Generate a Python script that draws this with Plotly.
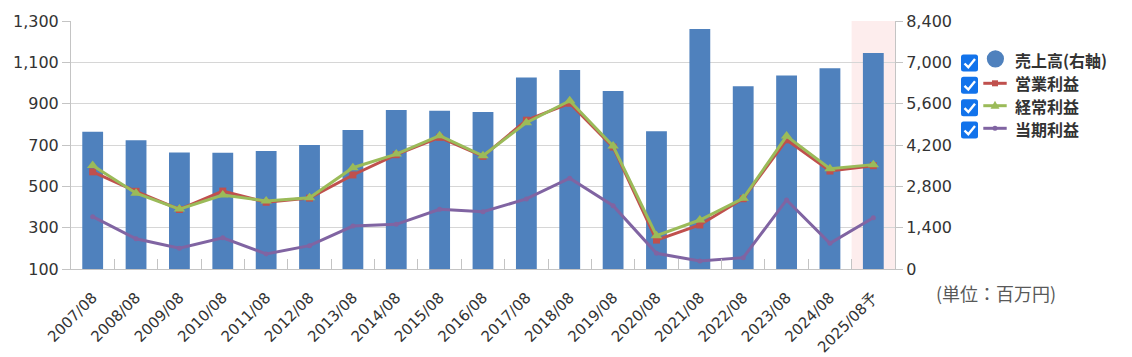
import plotly.graph_objects as go

categories = ["2007/08", "2008/08", "2009/08", "2010/08", "2011/08", "2012/08", "2013/08",
              "2014/08", "2015/08", "2016/08", "2017/08", "2018/08", "2019/08", "2020/08",
              "2021/08", "2022/08", "2023/08", "2024/08", "2025/08予"]
sales = [4650, 4360, 3950, 3940, 4000, 4200, 4710, 5385, 5360, 5320, 6490, 6740, 6030,
         4665, 8130, 6190, 6550, 6800, 7320]
operating = [570, 476, 388, 477, 423, 443, 555, 653, 737, 645, 820, 902, 690, 240, 313,
             440, 725, 574, 600]
ordinary = [601, 467, 390, 458, 429, 445, 590, 656, 745, 648, 808, 914, 695, 261, 337,
            442, 743, 585, 605]
net = [353, 246, 200, 251, 173, 213, 308, 316, 389, 377, 439, 539, 406, 176, 139, 155,
       434, 224, 348]

legend_names = ["売上高(右軸)", "営業利益", "経常利益", "当期利益"]
unit_text = "(単位：百万円)"

W, H = 1132, 357
ML, MR, MT, MB = 71, 237, 21, 88
PW, PH = W - ML - MR, H - MT - MB


def pxx(x):
    return (x - ML) / PW


def pxy(y):
    return (H - MB - y) / PH


BLUE = "#4F81BD"
RED = "#C0504D"
GREEN = "#9BBB59"
PURPLE = "#8064A2"
GRID = "#d6d6d6"
AXIS = "#c4c4c4"

fig = go.Figure()

fig.add_trace(go.Bar(x=categories, y=sales, name=legend_names[0],
                     marker=dict(color=BLUE, line=dict(width=0)), yaxis="y"))
fig.add_trace(go.Scatter(x=categories, y=operating, mode="lines+markers", name=legend_names[1],
                         line=dict(color=RED, width=3), marker=dict(symbol="square", size=7, color=RED),
                         yaxis="y2"))
fig.add_trace(go.Scatter(x=categories, y=ordinary, mode="lines+markers", name=legend_names[2],
                         line=dict(color=GREEN, width=3), marker=dict(symbol="triangle-up", size=10, color=GREEN),
                         yaxis="y2"))
fig.add_trace(go.Scatter(x=categories, y=net, mode="lines+markers", name=legend_names[3],
                         line=dict(color=PURPLE, width=3), marker=dict(symbol="circle", size=5, color=PURPLE),
                         yaxis="y2"))

ytickfont = dict(family="DejaVu Sans", size=16, color="#333333")
xtickfont = dict(family="DejaVu Sans", size=15, color="#333333")

shapes = [dict(type="rect", xref="x", yref="paper", x0=17.5, x1=18.5, y0=0, y1=1,
               fillcolor="#FDEDED", line=dict(width=0), layer="below")]
annotations = []


def ppath(points, close=False):
    s = "M " + " L ".join(f"{pxx(x)},{pxy(y)}" for x, y in points)
    return s + (" Z" if close else "")


# hand-drawn legend with checkboxes (as in the reference)
box_rows = [63, 85.3, 107.7, 130]
text_rows = [59.7, 82.9, 106.1, 129.3]
sym_rows = [60.8, 83.3, 105.7, 128.3]
for cy in box_rows:
    x0, x1, y0, y1, r = 961, 978, cy - 8.5, cy + 8.5, 2.5
    path = (f"M {pxx(x0 + r)},{pxy(y0)} L {pxx(x1 - r)},{pxy(y0)} "
            f"Q {pxx(x1)},{pxy(y0)} {pxx(x1)},{pxy(y0 + r)} L {pxx(x1)},{pxy(y1 - r)} "
            f"Q {pxx(x1)},{pxy(y1)} {pxx(x1 - r)},{pxy(y1)} L {pxx(x0 + r)},{pxy(y1)} "
            f"Q {pxx(x0)},{pxy(y1)} {pxx(x0)},{pxy(y1 - r)} L {pxx(x0)},{pxy(y0 + r)} "
            f"Q {pxx(x0)},{pxy(y0)} {pxx(x0 + r)},{pxy(y0)} Z")
    shapes.append(dict(type="path", xref="paper", yref="paper", path=path,
                       fillcolor="#1273EB", line=dict(width=0)))
    shapes.append(dict(type="path", xref="paper", yref="paper",
                       path=ppath([(964.5, cy + 0.5), (968.3, cy + 4.2), (975, cy - 4)]),
                       line=dict(color="white", width=2.4)))

# blue circle symbol
shapes.append(dict(type="circle", xref="paper", yref="paper",
                   x0=pxx(986.8), x1=pxx(1004), y0=pxy(67.4), y1=pxy(50.2),
                   fillcolor=BLUE, line=dict(width=0)))
# line symbols
for cy, col in zip(sym_rows[1:], [RED, GREEN, PURPLE]):
    shapes.append(dict(type="line", xref="paper", yref="paper",
                       x0=pxx(983.3), x1=pxx(1006.7), y0=pxy(cy), y1=pxy(cy),
                       line=dict(color=col, width=3)))
cy = sym_rows[1]
shapes.append(dict(type="rect", xref="paper", yref="paper",
                   x0=pxx(992), x1=pxx(998), y0=pxy(cy + 3), y1=pxy(cy - 3),
                   fillcolor=RED, line=dict(width=0)))
cy = sym_rows[2]
shapes.append(dict(type="path", xref="paper", yref="paper",
                   path=ppath([(995, cy - 5), (999.5, cy + 3), (990.5, cy + 3)], close=True),
                   fillcolor=GREEN, line=dict(width=0)))
cy = sym_rows[3]
shapes.append(dict(type="circle", xref="paper", yref="paper",
                   x0=pxx(992.5), x1=pxx(997.5), y0=pxy(cy + 2.5), y1=pxy(cy - 2.5),
                   fillcolor=PURPLE, line=dict(width=0)))

for name, cy in zip(legend_names, text_rows):
    annotations.append(dict(text="<b>" + name + "</b>", xref="paper", yref="paper",
                            x=pxx(1014), y=pxy(cy), xanchor="left", yanchor="middle",
                            showarrow=False, borderpad=0,
                            font=dict(family="Noto Sans CJK JP", size=16, color="#333333")))

annotations.append(dict(text=unit_text, xref="paper", yref="paper", x=pxx(996), y=pxy(292.5),
                        xanchor="center", yanchor="middle", showarrow=False,
                        font=dict(family="Noto Sans CJK JP", size=18, color="#595959")))

fig.update_layout(
    width=W, height=H, autosize=False,
    margin=dict(l=ML, r=MR, t=MT, b=MB, pad=0, autoexpand=False),
    paper_bgcolor="white", plot_bgcolor="white",
    bargap=0.52,
    showlegend=False,
    xaxis=dict(type="category", tickangle=-45, tickfont=xtickfont, showgrid=False,
               showline=True, linecolor=AXIS, linewidth=1, automargin=False,
               ticks="inside", tickson="boundaries", ticklen=10, tickcolor=AXIS, tickwidth=1,
               ticklabelstandoff=13, range=[-0.5, 18.5]),
    yaxis=dict(side="right", range=[0, 8400], dtick=1400, tick0=0, tickformat=",",
               showgrid=True, gridcolor=GRID, gridwidth=1, zeroline=False, automargin=False,
               showline=True, linecolor=AXIS, ticks="outside", ticklen=7, tickcolor=AXIS,
               tickfont=ytickfont),
    yaxis2=dict(side="left", overlaying="y", range=[100, 1300], dtick=200, tick0=100,
                tickformat=",", showgrid=False, zeroline=False, automargin=False,
                showline=True, linecolor=AXIS, ticks="outside", ticklen=8, tickcolor=AXIS,
                tickfont=ytickfont),
    shapes=shapes,
    annotations=annotations,
    hovermode=False,
)

fig.write_html("out.html", config={"displayModeBar": False},
               post_script="document.body.style.margin='0';")
